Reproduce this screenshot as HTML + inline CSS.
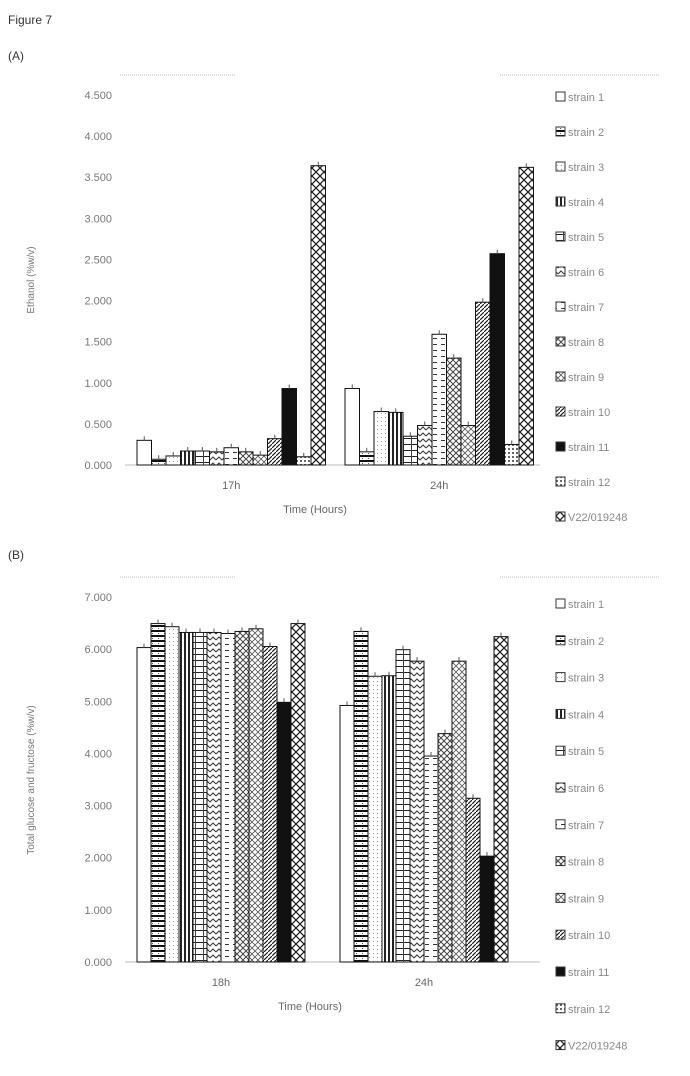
<!DOCTYPE html>
<html><head><meta charset="utf-8">
<style>
html,body{margin:0;padding:0;background:#fff;}
svg{display:block;font-family:"Liberation Sans",sans-serif;}
</style></head>
<body>
<svg id="fig" width="690" height="1076" viewBox="0 0 690 1076" xmlns="http://www.w3.org/2000/svg">
<defs>
<pattern id="p0" width="4" height="4" patternUnits="userSpaceOnUse"><rect width="4" height="4" fill="#fff"/></pattern>
<pattern id="p1" width="6" height="5" patternUnits="userSpaceOnUse"><rect width="6" height="5" fill="#fff"/><rect y="0" width="6" height="2" fill="#111"/><rect x="2" y="3" width="1" height="1" fill="#555"/></pattern>
<pattern id="p2" width="4" height="4" patternUnits="userSpaceOnUse"><rect width="4" height="4" fill="#fff"/><rect x="1" y="1" width="1" height="1" fill="#999"/></pattern>
<pattern id="p3" width="4" height="4" patternUnits="userSpaceOnUse"><rect width="4" height="4" fill="#fff"/><rect x="0" width="2" height="4" fill="#222"/></pattern>
<pattern id="p4" width="8" height="6" patternUnits="userSpaceOnUse"><rect width="8" height="6" fill="#fff"/><rect y="0" width="8" height="1" fill="#222"/><rect x="3" y="0" width="1" height="6" fill="#444"/></pattern>
<pattern id="p5" width="6" height="6" patternUnits="userSpaceOnUse"><rect width="6" height="6" fill="#fff"/><path d="M0 4 L3 1 L6 4" stroke="#333" fill="none"/></pattern>
<pattern id="p6" width="8" height="6" patternUnits="userSpaceOnUse"><rect width="8" height="6" fill="#fff"/><rect x="1" y="2" width="4" height="1" fill="#333"/></pattern>
<pattern id="p7" width="6" height="6" patternUnits="userSpaceOnUse"><rect width="6" height="6" fill="#fff"/><path d="M0 3 L3 0 L6 3 L3 6 Z" stroke="#444" fill="none"/></pattern>
<pattern id="p8" width="6" height="6" patternUnits="userSpaceOnUse"><rect width="6" height="6" fill="#fff"/><path d="M0 0 L6 6 M6 0 L0 6" stroke="#555" stroke-width="0.8"/></pattern>
<pattern id="p9" width="4" height="4" patternUnits="userSpaceOnUse"><rect width="4" height="4" fill="#fff"/><path d="M0 4 L4 0" stroke="#222" stroke-width="1.2"/></pattern>
<pattern id="p10" width="4" height="4" patternUnits="userSpaceOnUse"><rect width="4" height="4" fill="#111"/></pattern>
<pattern id="p11" width="4" height="4" patternUnits="userSpaceOnUse"><rect width="4" height="4" fill="#fff"/><rect width="2" height="2" fill="#666"/></pattern>
<pattern id="p12" width="8" height="8" patternUnits="userSpaceOnUse"><rect width="8" height="8" fill="#fff"/><path d="M0 0 L8 8 M8 0 L0 8" stroke="#222" stroke-width="1.3"/></pattern>
</defs>
<text x="8" y="24" font-size="12" fill="#333">Figure 7</text>
<text x="8" y="60" font-size="12" fill="#333">(A)</text>
<text x="8" y="559" font-size="12" fill="#333">(B)</text>
<g id="chartA"></g>
<g id="chartB"></g>
</svg>
<script>
const strains = ["strain 1","strain 2","strain 3","strain 4","strain 5","strain 6","strain 7","strain 8","strain 9","strain 10","strain 11","strain 12","V22/019248"];
const groupsA = ["17h","24h"];
const ethanol17h = [0.30,0.07,0.11,0.17,0.17,0.16,0.21,0.16,0.12,0.32,0.93,0.10,3.64];
const ethanol24h = [0.93,0.16,0.65,0.64,0.35,0.48,1.59,1.30,0.48,1.98,2.57,0.25,3.62];
const ticksA = ["0.000","0.500","1.000","1.500","2.000","2.500","3.000","3.500","4.000","4.500"];
const groupsB = ["18h","24h"];
const seriesB = [0,1,2,3,4,5,6,7,8,9,10,12];
const sugar18h = [6.03,6.49,6.43,6.32,6.32,6.32,6.30,6.34,6.39,6.05,4.98,6.49];
const sugar24h = [4.92,6.34,5.48,5.49,5.99,5.77,3.95,4.38,5.77,3.14,2.03,6.24];
const ticksB = ["0.000","1.000","2.000","3.000","4.000","5.000","6.000","7.000"];

const NS="http://www.w3.org/2000/svg";
function mk(parent,tag,attrs){const e=document.createElementNS(NS,tag);for(const k in attrs)e.setAttribute(k,attrs[k]);parent.appendChild(e);return e;}

function drawChart(g,cfg){
  const y=v=>cfg.y0-(v-cfg.vmin)/(cfg.vmax-cfg.vmin)*(cfg.y0-cfg.y1);
  cfg.ticks.forEach(t=>{
    const yy=y(parseFloat(t));
    const tx=mk(g,'text',{x:112,y:yy+4,'font-size':11,fill:'#777','text-anchor':'end'});
    
    
    tx.textContent=t;
  });
  const ax=mk(g,'line',{x1:cfg.x0,x2:cfg.x1,y1:cfg.y0,y2:cfg.y0,stroke:'#bbb'});
  
  
  cfg.groups.forEach((gn,gi)=>{
    const vals=cfg.data[gi];
    vals.forEach((v,i)=>{
      const x=cfg.gx[gi]+i*cfg.bw;
      const s=cfg.series[i];
      const r=mk(g,'rect',{x:x,y:y(v),width:cfg.bw,height:cfg.y0-y(v),fill:'url(#p'+s+')',stroke:'#111','stroke-width':1});
      
      
      const e=mk(g,'line',{x1:x+cfg.bw/2,x2:x+cfg.bw/2,y1:y(v)-4,y2:y(v),stroke:'#555'});
      
      
    });
    const lb=mk(g,'text',{x:cfg.gx[gi]+vals.length*cfg.bw/2,y:cfg.y0+24,'font-size':11,fill:'#666','text-anchor':'middle'});
    
    
    lb.textContent=gn;
  });
  const xt=mk(g,'text',{x:cfg.xtx,y:cfg.y0+48,'font-size':11,fill:'#666','text-anchor':'middle'});
  
  
  xt.textContent='Time (Hours)';
  const yt=mk(g,'text',{x:0,y:0,'font-size':10,fill:'#777','text-anchor':'middle',transform:'translate(34,'+cfg.ytY+') rotate(-90)'});
  
  
  yt.textContent=cfg.ytitle;
  strains.forEach((s,i)=>{
    const ly=cfg.ly+i*cfg.lstep;
    const b=mk(g,'rect',{x:556,y:ly-9,width:9,height:9,fill:'url(#p'+i+')',stroke:'#333','stroke-width':1});
    
    
    const t=mk(g,'text',{x:568,y:ly,'font-size':11,fill:'#888'});
    
    
    t.textContent=s;
  });
  [[120,235,cfg.y1-20],[500,660,cfg.y1-20]].forEach(d=>{
    const l=mk(g,'line',{x1:d[0],x2:d[1],y1:d[2],y2:d[2],stroke:'#bbb','stroke-dasharray':'1 1'});
    
    
  });
}
drawChart(document.getElementById('chartA'),{y0:465,y1:95,vmin:0,vmax:4.5,ticks:ticksA,groups:groupsA,data:[ethanol17h,ethanol24h],series:[0,1,2,3,4,5,6,7,8,9,10,11,12],gx:[137,345],bw:14.5,x0:125,x1:540,xtx:315,ytY:280,ytitle:'Ethanol (%w/v)',ly:101,lstep:35});
drawChart(document.getElementById('chartB'),{y0:962,y1:597,vmin:0,vmax:7,ticks:ticksB,groups:groupsB,data:[sugar18h,sugar24h],series:seriesB,gx:[137,340],bw:14,x0:125,x1:540,xtx:310,ytY:780,ytitle:'Total glucose and fructose (%w/v)',ly:608,lstep:36.8});
</script>
</body></html>
